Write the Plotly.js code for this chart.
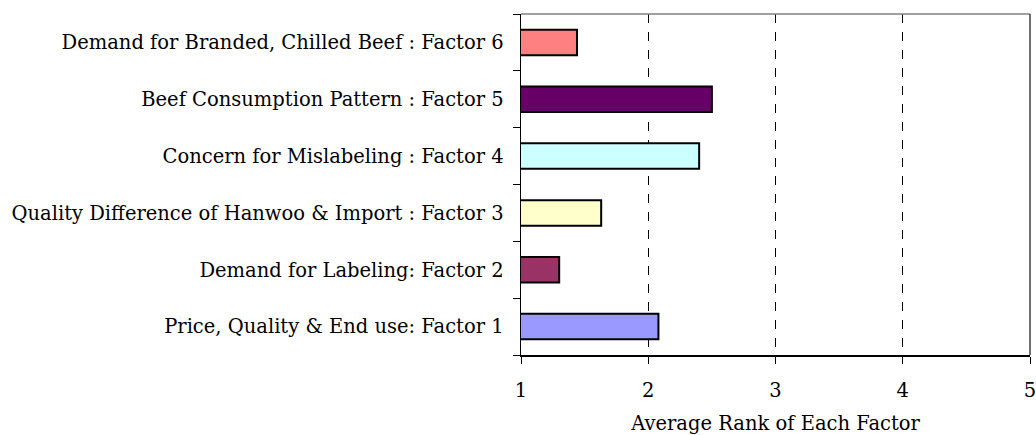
<!DOCTYPE html>
<html><head><meta charset="utf-8">
<script src="https://cdn.plot.ly/plotly-3.0.1.min.js"></script>
<style>html,body{margin:0;padding:0;background:#fff}#chart{width:1036px;height:435px}</style>
</head><body><div id="chart"></div>
<script>
const categories = [
  "Price, Quality & End use: Factor 1",
  "Demand for Labeling: Factor 2",
  "Quality Difference of Hanwoo & Import : Factor 3",
  "Concern for Mislabeling : Factor 4",
  "Beef Consumption Pattern : Factor 5",
  "Demand for Branded, Chilled Beef : Factor 6"
];
const averageRank = [2.08, 1.30, 1.63, 2.40, 2.50, 1.44];
const barColors = ["#9999FF", "#993366", "#FFFFCC", "#CCFFFF", "#660066", "#FF8080"];
const xTicks = [1, 2, 3, 4, 5];
const xTitle = "Average Rank of Each Factor";

const font = "DejaVu Serif, serif";
const fs = 19.5;
const trace = {
  type: "bar", orientation: "h",
  y: categories, x: averageRank,
  marker: {color: barColors, line: {color: "#000", width: 2}},
  width: 0.45, hoverinfo: "x+y"
};
const layout = {
  width: 1036, height: 435,
  margin: {l: 521, r: 6, t: 14, b: 80},
  paper_bgcolor: "#fff", plot_bgcolor: "#fff",
  font: {family: font, size: fs, color: "#000"},
  showlegend: false,
  xaxis: {
    range: [1, 5], tickvals: xTicks, ticktext: xTicks.map(String),
    showgrid: true, gridcolor: "#000", griddash: "dash", gridwidth: 1,
    zeroline: false, showline: true, linecolor: "#000", linewidth: 1.5,
    ticks: "outside", ticklen: 7, tickcolor: "#000", tickwidth: 1,
    ticklabelstandoff: 10, ticklabeloverflow: "allow",
    tickfont: {family: font, size: fs},
    title: {text: xTitle, font: {family: font, size: fs}, standoff: 20}
  },
  yaxis: {
    type: "category", categoryorder: "array", categoryarray: categories,
    tickson: "boundaries", ticks: "outside", ticklen: 7, tickcolor: "#000", tickwidth: 1,
    showline: true, linecolor: "#000", linewidth: 1.5, showgrid: false,
    ticklabelstandoff: 12,
    tickfont: {family: font, size: fs},
    range: [-0.5, 5.5]
  },
  bargap: 0.55,
  shapes: [
    {type: "line", xref: "x domain", yref: "y domain", x0: 0, x1: 1, y0: 1, y1: 1, line: {color: "#808080", width: 1.5}},
    {type: "line", xref: "x domain", yref: "y domain", x0: 1, x1: 1, y0: 0, y1: 1, line: {color: "#404040", width: 1.5}}
  ]
};
Plotly.newPlot("chart", [trace], layout, {displayModeBar: false, staticPlot: true});
</script>
</body></html>
